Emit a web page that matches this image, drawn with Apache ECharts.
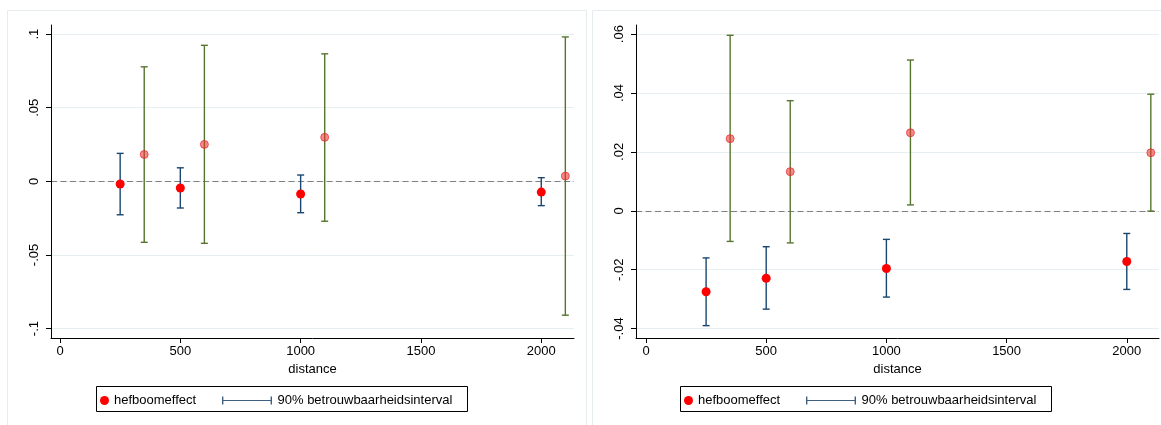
<!DOCTYPE html>
<html>
<head>
<meta charset="utf-8">
<script src="https://cdn.jsdelivr.net/npm/echarts@6/dist/echarts.min.js"></script>
<style>html,body{margin:0;padding:0;background:#fff}#c{width:1161px;height:425px}</style>
</head>
<body>
<div id="c"></div>
<script>
// ---- data ----
const distA = [250, 500, 1000, 2000];
const distB = [350, 600, 1100, 2100];
const xTicks = [0, 500, 1000, 1500, 2000];

// left panel
const leftEstA = [-0.0018, -0.0045, -0.0086, -0.0073];
const leftLoA  = [-0.0227, -0.0181, -0.0213, -0.0165];
const leftHiA  = [ 0.0190,  0.0092,  0.0043,  0.0025];
const leftEstB = [ 0.0183,  0.0251,  0.0299,  0.0036];
const leftLoB  = [-0.0414, -0.0421, -0.0271, -0.0909];
const leftHiB  = [ 0.0778,  0.0924,  0.0866,  0.0981];
const leftYTicks = [-0.1, -0.05, 0, 0.05, 0.1];

// right panel
const rightEstA = [-0.0275, -0.0229, -0.0196, -0.0172];
const rightLoA  = [-0.0390, -0.0334, -0.0293, -0.0267];
const rightHiA  = [-0.0160, -0.0122, -0.0097, -0.0077];
const rightEstB = [ 0.0245,  0.0133,  0.0265,  0.0197];
const rightLoB  = [-0.0104, -0.0109,  0.0020, -0.0001];
const rightHiB  = [ 0.0596,  0.0374,  0.0512,  0.0396];
const rightYTicks = [-0.04, -0.02, 0, 0.02, 0.04, 0.06];

const legendPoint = 'hefboomeffect';
const legendCI = '90% betrouwbaarheidsinterval';

// ---- helpers ----
const FONT = 'Liberation Sans, Arial, sans-serif';
const BLUE = '#1a476f', GREEN = '#55752f';
const zip2 = (a, b) => a.map((v, i) => [v, b[i]]);
const zip3 = (a, b, c) => a.map((v, i) => [v, b[i], c[i]]);
const fmtY = v => {
  if (Math.abs(v) < 1e-12) return '0';
  const s = String(+v.toFixed(4));
  return s.replace(/^(-?)0\./, '$1.');
};

function renderCI(params, api) {
  const x = api.value(0), lo = api.value(1), hi = api.value(2);
  const a = api.coord([x, lo]), b = api.coord([x, hi]);
  const hw = 3.5;
  const style = { stroke: api.visual('color'), lineWidth: 1.4 };
  return {
    type: 'group',
    children: [
      { type: 'line', shape: { x1: a[0], y1: a[1], x2: b[0], y2: b[1] }, style },
      { type: 'line', shape: { x1: a[0] - hw, y1: a[1], x2: a[0] + hw, y2: a[1] }, style },
      { type: 'line', shape: { x1: b[0] - hw, y1: b[1], x2: b[0] + hw, y2: b[1] }, style }
    ]
  };
}

function xAxis(gi, min, max) {
  return {
    gridIndex: gi, type: 'value', min, max,
    name: 'distance', nameLocation: 'middle', nameGap: 25,
    nameTextStyle: { fontSize: 13, color: '#000', fontFamily: FONT },
    axisLine: { onZero: false, lineStyle: { color: '#000', width: 1 } },
    axisTick: { customValues: xTicks, length: 5, lineStyle: { color: '#000' } },
    axisLabel: { customValues: xTicks, fontSize: 13, color: '#000', fontFamily: FONT, margin: 7, formatter: v => String(v) },
    splitLine: { show: false }
  };
}
function yAxis(gi, min, max, ticks) {
  return {
    gridIndex: gi, type: 'value', min, max,
    axisLine: { show: true, onZero: false, lineStyle: { color: '#000', width: 1 } },
    axisTick: { show: true, customValues: ticks, length: 5, lineStyle: { color: '#000' } },
    axisLabel: { customValues: ticks, rotate: 90, fontSize: 13, color: '#000', fontFamily: FONT, margin: 10, formatter: fmtY },
    splitLine: { show: false }
  };
}
function gridLines(ticks) {
  return ticks.map(t => ({ yAxis: t, lineStyle: { color: '#e6eff1', width: 1, type: 'solid' } }));
}
function panelSeries(gi, estA, loA, hiA, estB, loB, hiB, yTicks) {
  return [
    {
      name: 'grid' + gi, type: 'line', xAxisIndex: gi, yAxisIndex: gi, data: [], silent: true,
      markLine: {
        silent: true, symbol: 'none', label: { show: false }, z: 0,
        data: gridLines(yTicks).concat([{ yAxis: 0, lineStyle: { color: '#7f7f7f', width: 1, type: [6, 3.5] } }])
      }
    },
    {
      name: legendCI, type: 'custom', xAxisIndex: gi, yAxisIndex: gi, z: 2,
      itemStyle: { color: BLUE }, renderItem: renderCI,
      encode: { x: 0, y: [1, 2] }, data: zip3(distA, loA, hiA)
    },
    {
      name: 'ciB' + gi, type: 'custom', xAxisIndex: gi, yAxisIndex: gi, z: 2,
      itemStyle: { color: GREEN }, renderItem: renderCI,
      encode: { x: 0, y: [1, 2] }, data: zip3(distB, loB, hiB)
    },
    {
      name: legendPoint, type: 'scatter', xAxisIndex: gi, yAxisIndex: gi, z: 3,
      symbolSize: 9, itemStyle: { color: '#ff0000', opacity: 1 },
      data: zip2(distA, estA)
    },
    {
      name: 'estB' + gi, type: 'scatter', xAxisIndex: gi, yAxisIndex: gi, z: 3,
      symbolSize: 8, itemStyle: { color: 'rgba(240,50,50,0.72)', borderColor: 'rgba(230,30,30,0.8)', borderWidth: 1 },
      data: zip2(distB, estB)
    }
  ];
}

const ciIcon = 'path://M0,0 H1.4 V8 H0 Z M0,3.4 H50 V4.6 H0 Z M48.6,0 H50 V8 H48.6 Z';
function legends(x0, dotLeft, ciLeft) {
  return [
    {
      left: dotLeft, top: 394, padding: 0, itemWidth: 9, itemHeight: 9, selectedMode: false,
      textStyle: { fontSize: 13, color: '#000', fontFamily: FONT },
      data: [{ name: legendPoint, icon: 'circle', itemStyle: { color: '#ff0000' } }]
    },
    {
      left: ciLeft, top: 394, padding: 0, itemWidth: 51, itemHeight: 8, selectedMode: false,
      textStyle: { fontSize: 13, color: '#000', fontFamily: FONT },
      data: [{ name: legendCI, icon: ciIcon, itemStyle: { color: '#3f6080' } }]
    }
  ];
}

const chart = echarts.init(document.getElementById('c'), null, { renderer: 'canvas' });
chart.setOption({
  animation: false,
  backgroundColor: '#fff',
  graphic: [
    { type: 'rect', shape: { x: 7.5, y: 10.5, width: 579, height: 430 }, style: { fill: 'none', stroke: '#e4ecee', lineWidth: 1 }, silent: true },
    { type: 'rect', shape: { x: 592.5, y: 10.5, width: 580, height: 430 }, style: { fill: 'none', stroke: '#e4ecee', lineWidth: 1 }, silent: true },
    { type: 'rect', shape: { x: 96.5, y: 386.5, width: 371, height: 25 }, style: { fill: '#fff', stroke: '#000', lineWidth: 1 }, silent: true, z: -1 },
    { type: 'rect', shape: { x: 680.5, y: 386.5, width: 371, height: 25 }, style: { fill: '#fff', stroke: '#000', lineWidth: 1 }, silent: true, z: -1 }
  ],
  grid: [
    { left: 51, top: 25, width: 523, height: 313 },
    { left: 636, top: 25, width: 523, height: 313 }
  ],
  xAxis: [xAxis(0, -37.4, 2136), xAxis(1, -41.6, 2134)],
  yAxis: [yAxis(0, -0.1064, 0.1062, leftYTicks), yAxis(1, -0.0432, 0.0631, rightYTicks)],
  legend: legends(0, 100, 222).concat(legends(1, 684, 806)),
  series: panelSeries(0, leftEstA, leftLoA, leftHiA, leftEstB, leftLoB, leftHiB, leftYTicks)
    .concat(panelSeries(1, rightEstA, rightLoA, rightHiA, rightEstB, rightLoB, rightHiB, rightYTicks))
});
</script>
</body>
</html>
